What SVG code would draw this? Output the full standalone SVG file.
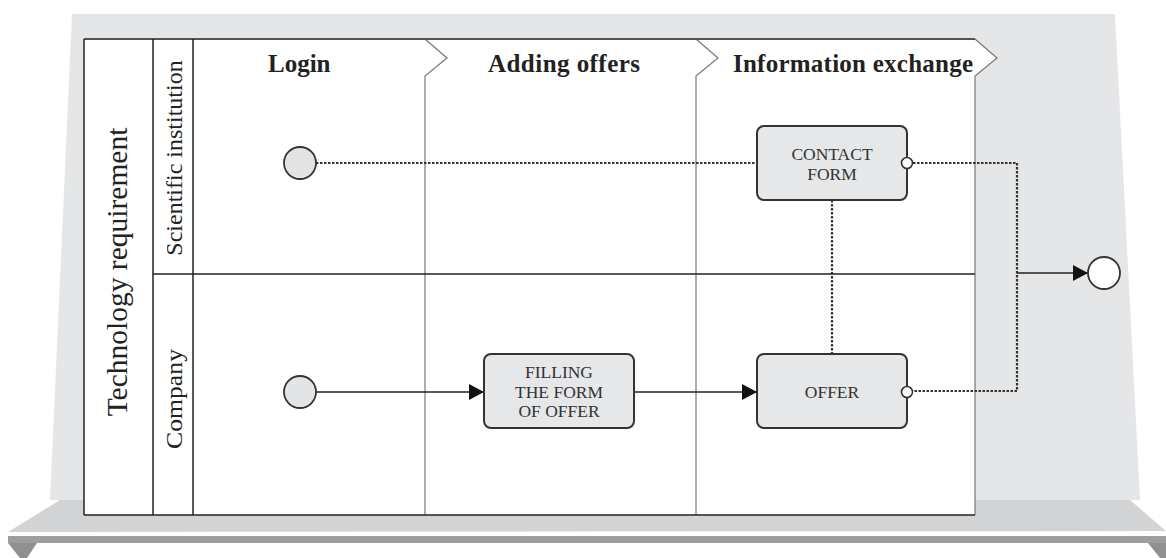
<svg xmlns="http://www.w3.org/2000/svg" width="1166" height="558" viewBox="0 0 1166 558">
<defs>
<style>
.lbl{font-family:"Liberation Serif","DejaVu Serif",serif;fill:#222}
.phase{font-size:25px;font-weight:bold;text-anchor:start}
.box{fill:#e6e7e9;stroke:#333;stroke-width:2}
.boxt{font-size:17.5px;text-anchor:middle;fill:#333}
.start{fill:#e3e4e6;stroke:#333;stroke-width:1.8}
.port{fill:#fff;stroke:#333;stroke-width:1.6}
.solid{fill:none;stroke:#222;stroke-width:1.6}
.dot{fill:none;stroke:#333;stroke-width:2.2;stroke-dasharray:2.5 1.5}
.frame{fill:none;stroke:#222;stroke-width:1.5}
.phl{fill:none;stroke:#777;stroke-width:1.2}
</style>
<marker id="arr" markerUnits="userSpaceOnUse" markerWidth="16" markerHeight="16" refX="15" refY="8" orient="auto">
<path d="M0,0 L15,8 L0,16 z" fill="#111"/>
</marker>
</defs>
<rect width="1166" height="558" fill="#fff"/>
<g id="backdrop">
<polygon points="72,14 1115,14 1140,500 50,500" fill="#e5e6e8"/>
<polygon points="60,500 1130,500 1166,531 8,532" fill="#d2d3d5"/>
<rect x="8" y="536" width="1158" height="7" fill="#9c9ea0"/>
<polygon points="8,543 37,543 27,558 20,558" fill="#8e9092"/>
<polygon points="1148,543 1166,543 1166,558 1160,558" fill="#8e9092"/>
</g>
<g id="pool">
<path d="M84,39 L975,39 L997,58 L975,76 L975,515 L84,515 Z" fill="#fff"/>
<path d="M425,39 L447,58 L425,76 L425,515" class="phl"/>
<path d="M696,39 L718,58 L696,76 L696,515" class="phl"/>
<path d="M975,39 L997,58 L975,76 L975,515" class="phl"/>
<line x1="84" y1="39" x2="975" y2="39" stroke="#555" stroke-width="2"/>
<line x1="84" y1="39" x2="84" y2="515" class="frame"/>
<line x1="84" y1="515" x2="975" y2="515" class="frame"/>
<line x1="153" y1="39" x2="153" y2="515" class="frame"/>
<line x1="193" y1="39" x2="193" y2="515" class="frame"/>
<line x1="153" y1="274" x2="975" y2="274" class="frame"/>
<text class="lbl" font-size="29.5" text-anchor="middle" transform="translate(127,272) rotate(-90)">Technology requirement</text>
<text class="lbl" font-size="24" text-anchor="middle" transform="translate(182,158) rotate(-90)">Scientific institution</text>
<text class="lbl" font-size="24" text-anchor="middle" textLength="100" lengthAdjust="spacingAndGlyphs" transform="translate(182,399) rotate(-90)">Company</text>
<text class="lbl phase" x="268" y="72">Login</text>
<text class="lbl phase" x="488" y="72" textLength="152" lengthAdjust="spacing">Adding offers</text>
<text class="lbl phase" x="733" y="72" textLength="240" lengthAdjust="spacing">Information exchange</text>
</g>
<g id="connectors">
<line x1="316" y1="163" x2="757" y2="163" class="dot"/>
<line x1="832" y1="200" x2="832" y2="354" class="dot"/>
<polyline points="913,163 1017,163 1017,391 913,391" class="dot"/>
<line x1="316" y1="392" x2="484" y2="392" class="solid" marker-end="url(#arr)"/>
<line x1="634" y1="392" x2="757" y2="392" class="solid" marker-end="url(#arr)"/>
<line x1="1017" y1="273" x2="1088" y2="273" class="solid" marker-end="url(#arr)"/>
</g>
<g id="start-science"><circle cx="300" cy="163" r="16" class="start"/></g>
<g id="start-company"><circle cx="300" cy="392" r="16" class="start"/></g>
<g id="contact-form">
<rect x="757" y="126" width="150" height="74" rx="7" class="box"/>
<text class="lbl boxt" x="832" y="160">CONTACT</text>
<text class="lbl boxt" x="832" y="180">FORM</text>
<circle cx="907" cy="163" r="5.5" class="port"/>
</g>
<g id="filling-form">
<rect x="484" y="354" width="150" height="74" rx="7" class="box"/>
<text class="lbl boxt" x="559" y="378">FILLING</text>
<text class="lbl boxt" x="559" y="398">THE FORM</text>
<text class="lbl boxt" x="559" y="417">OF OFFER</text>
</g>
<g id="offer">
<rect x="757" y="354" width="150" height="74" rx="7" class="box"/>
<text class="lbl boxt" x="832" y="398">OFFER</text>
<circle cx="907" cy="392" r="5.5" class="port"/>
</g>
<g id="end"><circle cx="1104" cy="273" r="16" fill="#fff" stroke="#333" stroke-width="1.8"/></g>
</svg>
